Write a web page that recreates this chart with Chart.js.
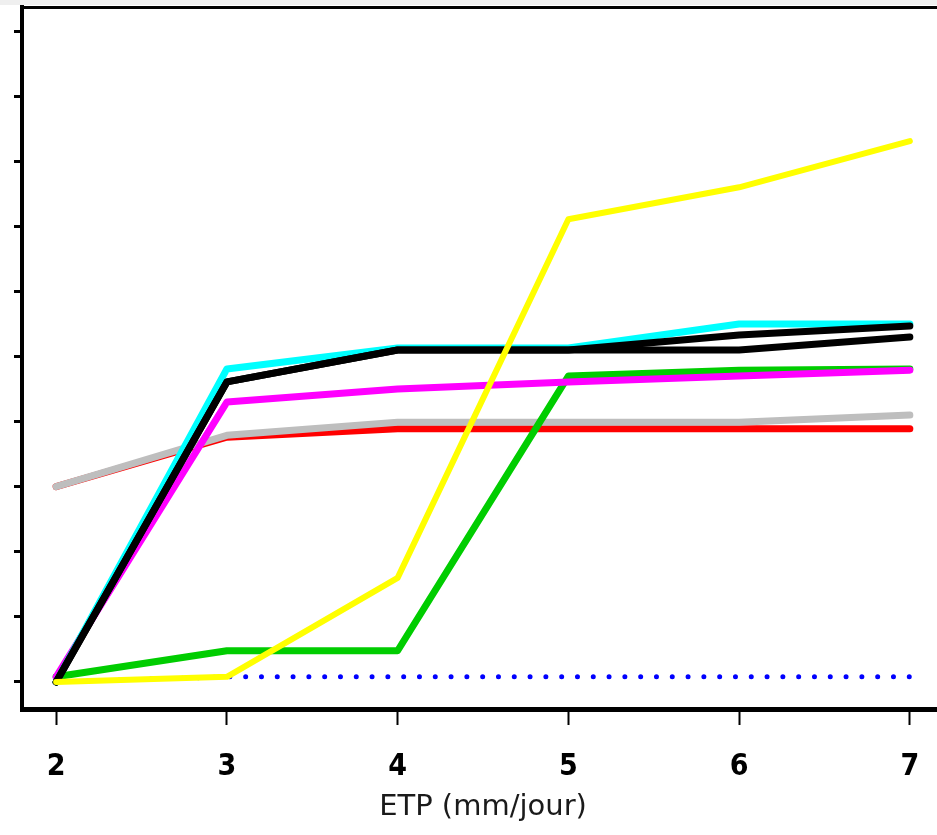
<!DOCTYPE html>
<html>
<head>
<meta charset="utf-8">
<script src="https://cdn.jsdelivr.net/npm/chart.js@4/dist/chart.umd.min.js"></script>
<style>
  html, body { margin: 0; padding: 0; overflow: hidden; background: #fff; }
  #wrap { width: 937px; height: 835px; overflow: hidden; position: relative; background: linear-gradient(#efefef 0, #efefef 5px, #fff 5px); }
  #topline { position: absolute; left: 20px; top: 6px; width: 917px; height: 3px; background: #000; }
  canvas { display: block; }
</style>
</head>
<body>
<div id="wrap"><canvas id="chart" width="960" height="835"></canvas><div id="topline"></div></div>
<script>
// --- data ---
const etp = [2, 3, 4, 5, 6, 7];
const xTicks = [2, 3, 4, 5, 6, 7];
const yTicks = [0, 1, 2, 3, 4, 5, 6, 7, 8, 9, 10];

const yellow  = [0.00, 0.08, 1.60, 7.11, 7.60, 8.31];
const blackB  = [0.00, 4.61, 5.10, 5.10, 5.33, 5.47];
const blackA  = [0.00, 4.61, 5.10, 5.10, 5.10, 5.30];
const cyan    = [0.00, 4.81, 5.13, 5.13, 5.50, 5.50];
const magenta = [0.08, 4.30, 4.50, 4.61, 4.70, 4.79];
const green   = [0.08, 0.48, 0.48, 4.70, 4.79, 4.81];
const grey    = [3.00, 3.79, 3.99, 3.99, 3.99, 4.10];
const red     = [3.00, 3.76, 3.89, 3.89, 3.89, 3.89];
const blue    = [0.00, 0.08, 0.08, 0.08, 0.08, 0.08];

const pts = (vals) => etp.map((x, i) => ({ x, y: vals[i] }));

function line(vals, color, width, extra) {
  return Object.assign({
    data: pts(vals),
    borderColor: color,
    borderWidth: width,
    pointRadius: 0,
    tension: 0,
    fill: false,
    borderCapStyle: "round",
    borderJoinStyle: "round"
  }, extra || {});
}

// first in list = drawn on top
const datasets = [
  line(yellow, "#ffff00", 6),
  line(blackB, "#000000", 7),
  line(blackA, "#000000", 7),
  line(cyan, "#00ffff", 7),
  line(magenta, "#ff00ff", 7),
  line(green, "#00cd00", 7),
  line(grey, "#bebebe", 7),
  line(red, "#ff0000", 7),
  line(blue, "#0000ff", 5, { borderDash: [0, 15.8] })
];

new Chart(document.getElementById("chart"), {
  type: "line",
  data: { datasets },
  options: {
    responsive: false,
    animation: false,
    layout: { padding: { top: 7, right: 16, left: 0, bottom: 0 } },
    plugins: { legend: { display: false }, tooltip: { enabled: false } },
    scales: {
      x: {
        type: "linear",
        min: 1.8,
        max: 7.2,
        afterBuildTicks: (s) => { s.ticks = xTicks.map(v => ({ value: v })); },
        afterFit: (s) => { s.height = 126; },
        border: { display: true, color: "#000", width: 5 },
        grid: { drawOnChartArea: false, drawTicks: true, tickLength: 16, tickWidth: 2, tickColor: "#000" },
        ticks: {
          color: "#000",
          padding: 24,
          maxRotation: 0,
          font: { family: "'Liberation Sans Narrow', 'DejaVu Sans Condensed', sans-serif", weight: "bold", size: 30 }
        },
        title: {
          display: true,
          text: "ETP (mm/jour)",
          color: "#1a1a1a",
          padding: { top: 0, bottom: 10 },
          font: { family: "'DejaVu Sans', sans-serif", size: 29 }
        }
      },
      y: {
        min: -0.415,
        max: 10.37,
        afterBuildTicks: (s) => { s.ticks = yTicks.map(v => ({ value: v })); },
        afterFit: (s) => { s.width = 22; },
        border: { display: true, color: "#000", width: 4 },
        grid: { drawOnChartArea: false, drawTicks: true, tickLength: 8, tickWidth: 3, tickColor: "#000" },
        ticks: { display: false }
      }
    }
  }
});
</script>
</body>
</html>
